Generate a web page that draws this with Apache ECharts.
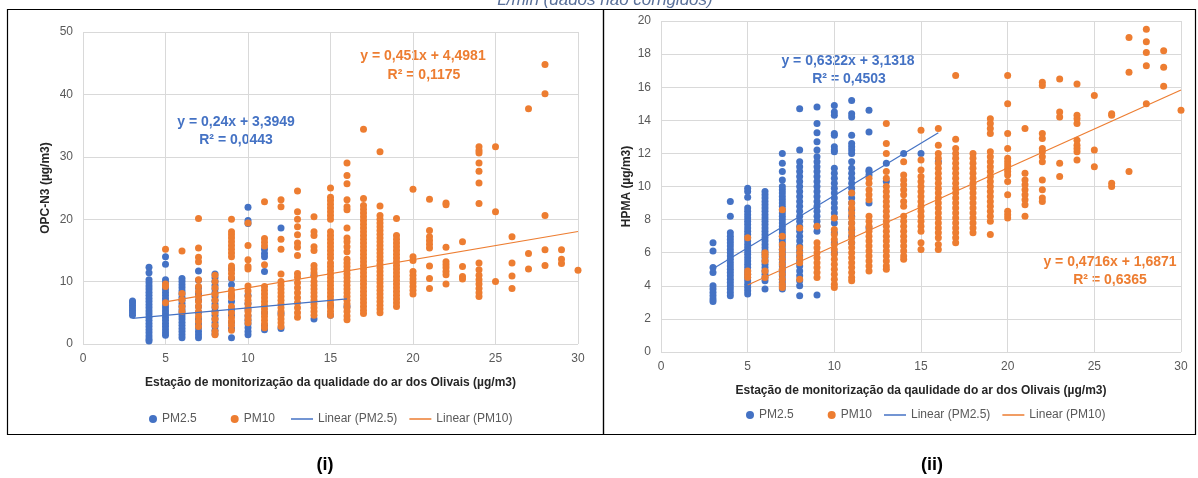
<!DOCTYPE html>
<html>
<head>
<meta charset="utf-8">
<script src="https://cdn.jsdelivr.net/npm/echarts@6/dist/echarts.min.js"></script>
<style>
  html, body { margin: 0; padding: 0; background: #ffffff; }
  #chart { width: 1198px; height: 478px; }
</style>
</head>
<body>
<div id="chart"></div>
<script>
// Each column: [station value (µg/m3), [sensor readings at that value]]

// (i) OPC-N3 vs Olivais station
const opcPm25 = [
  [3, [4.6, 5.0, 5.4, 5.8, 6.2, 6.6, 6.9]],
  [4, [12.3, 11.4, 10.3, 9.8, 9.3, 8.8, 8.3, 7.8, 7.3, 6.8, 6.3, 5.8, 5.3, 4.8, 4.3, 3.8, 3.3, 2.8, 2.3, 1.8, 1.3, 0.8, 0.5]],
  [5, [14.0, 12.8, 10.3, 9.8, 9.3, 8.8, 8.3, 7.8, 7.3, 6.8, 6.3, 5.8, 5.3, 4.8, 4.3, 3.8, 3.3, 2.8, 2.3, 1.8, 1.4]],
  [6, [10.5, 10.0, 9.5, 9.0, 8.5, 8.0, 7.5, 7.0, 6.5, 6.0, 5.5, 5.0, 4.5, 4.0, 3.5, 3.0, 2.5, 2.0, 1.5, 1.0]],
  [7, [11.7, 10.2, 9.0, 8.0, 7.0, 6.0, 5.0, 4.0, 3.2, 2.6, 2.0, 1.5, 1.0]],
  [8, [11.2, 10.6, 10.0, 9.4, 8.8, 8.2, 7.6, 7.0, 6.4, 5.8, 5.2, 4.6, 4.0, 3.4, 2.8, 2.2, 1.6]],
  [9, [12.0, 10.5, 9.5, 7.6, 6.8, 5.5, 4.6, 3.5, 2.5, 1.0]],
  [10, [21.9, 19.8, 19.3, 7.8, 6.5, 5.5, 4.5, 3.8, 3.2, 2.6, 2.0, 1.5]],
  [11, [15.2, 14.5, 14.0, 11.6, 5.0, 3.0, 2.3]],
  [12, [18.6, 4.9, 2.5]],
  [14, [11.0, 4.0]],
  [15, [6.2, 4.6]],
  [16, [6.0]]
];

const opcPm10 = [
  [5, [15.2, 9.6, 9.2, 6.6]],
  [6, [14.9, 8.1, 7.1, 6.0, 5.2]],
  [7, [20.1, 15.4, 13.9, 13.2, 10.3, 9.2, 8.4, 7.6, 6.8, 6.0, 5.2, 4.4, 3.6, 2.8]],
  [8, [11.0, 10.0, 9.0, 8.0, 7.0, 6.0, 5.0, 4.0, 3.0, 2.0, 1.5]],
  [9, [20.0, 18.0, 17.5, 17.0, 16.4, 15.8, 15.2, 14.6, 14.0, 12.5, 11.9, 11.3, 10.6, 8.6, 8.0, 7.4, 6.0, 5.0, 4.2, 3.6, 3.0, 2.2]],
  [10, [19.4, 15.8, 13.5, 12.4, 12.0, 9.3, 8.5, 7.6, 7.0, 6.4, 5.8, 5.2, 4.6, 4.0, 3.4]],
  [11, [22.8, 16.9, 16.3, 15.7, 12.7, 9.2, 8.6, 8.0, 7.4, 6.8, 6.2, 5.6, 5.0, 4.4, 3.8, 3.2, 2.6]],
  [12, [23.1, 22.0, 16.8, 15.2, 11.2, 10.0, 9.4, 8.8, 8.2, 7.6, 7.0, 6.4, 5.8, 5.2, 4.6, 4.0, 3.4, 2.8]],
  [13, [24.5, 21.2, 20.0, 18.8, 17.5, 16.2, 15.5, 14.2, 11.3, 10.7, 9.8, 9.0, 8.2, 7.4, 6.6, 5.8, 5.0, 4.3]],
  [14, [20.4, 18.0, 17.4, 15.6, 15.0, 12.6, 12.0, 11.4, 10.8, 10.0, 9.4, 8.8, 8.2, 7.6, 7.0, 6.4, 5.8, 5.2, 4.6]],
  [15, [25.0, 23.5, 23.0, 22.4, 21.8, 21.2, 20.6, 20.0, 18.0, 17.4, 16.8, 16.2, 15.6, 15.0, 14.4, 13.8, 13.0, 12.4, 11.8, 11.2, 10.6, 10.0, 9.4, 8.8, 8.2, 7.6, 7.0, 6.4, 5.8, 5.2, 4.6]],
  [16, [29.0, 27.0, 25.7, 23.1, 22.0, 21.5, 18.6, 17.0, 16.4, 15.6, 14.8, 13.6, 13.0, 12.4, 11.8, 11.2, 10.6, 10.0, 9.4, 8.8, 8.2, 7.6, 7.0, 6.4, 5.8, 5.2, 4.5, 3.9]],
  [17, [34.4, 23.3, 22.2, 21.6, 21.0, 20.4, 19.8, 19.2, 18.6, 18.0, 17.4, 16.8, 16.2, 15.6, 15.0, 14.4, 13.8, 13.2, 12.6, 12.0, 11.4, 10.8, 10.2, 9.6, 9.0, 8.4, 7.8, 7.2, 6.6, 6.0, 5.4, 4.9]],
  [18, [30.8, 22.1, 20.6, 20.0, 19.4, 18.8, 18.2, 17.6, 17.0, 16.4, 15.8, 15.2, 14.6, 14.0, 13.4, 12.8, 12.2, 11.6, 11.0, 10.4, 9.8, 9.2, 8.6, 8.0, 7.4, 6.8, 6.2, 5.6, 5.0]],
  [19, [20.1, 17.4, 16.8, 16.2, 15.6, 15.0, 14.4, 13.8, 13.2, 12.6, 12.0, 11.4, 10.8, 10.2, 9.6, 9.0, 8.4, 7.8, 7.2, 6.6, 6.0]],
  [20, [24.8, 14.0, 13.4, 11.6, 11.0, 10.4, 9.8, 9.2, 8.6, 8.0]],
  [21, [23.2, 18.2, 17.2, 16.6, 16.0, 15.4, 12.5, 10.5, 8.9]],
  [22, [22.6, 22.3, 15.5, 13.2, 12.7, 12.2, 11.6, 11.1, 9.6]],
  [23, [16.4, 12.4, 10.8, 10.4]],
  [24, [31.6, 31.0, 30.6, 29.0, 27.7, 25.8, 22.5, 13.0, 11.9, 11.0, 10.3, 9.6, 8.9, 8.2, 7.6]],
  [25, [31.6, 21.2, 10.0]],
  [26, [17.2, 13.0, 10.9, 8.9]],
  [27, [37.7, 14.5, 12.0]],
  [28, [44.8, 40.1, 20.6, 15.1, 12.6]],
  [29, [15.1, 13.6, 12.9]],
  [30, [11.8]]
];

// (ii) HPMA vs Olivais station
const hpmaPm25 = [
  [3, [6.6, 6.1, 5.1, 4.8, 4.0, 3.8, 3.6, 3.4, 3.2, 3.05]],
  [4, [9.1, 8.2, 7.2, 7.0, 6.8, 6.6, 6.4, 6.2, 6.0, 5.8, 5.6, 5.4, 5.2, 5.0, 4.8, 4.6, 4.4, 4.2, 4.0, 3.8, 3.6, 3.4]],
  [5, [9.9, 9.7, 9.35, 8.7, 8.5, 8.3, 8.1, 7.9, 7.7, 7.5, 7.3, 7.1, 6.9, 6.7, 6.5, 6.3, 6.1, 5.9, 5.7, 5.5, 5.3, 5.1, 4.9, 4.7, 4.5, 4.3, 4.1, 3.9, 3.7, 3.5]],
  [6, [9.7, 9.5, 9.3, 9.1, 8.9, 8.7, 8.5, 8.3, 8.1, 7.9, 7.7, 7.5, 7.3, 7.1, 6.9, 6.7, 6.5, 6.3, 6.1, 5.9, 5.7, 5.5, 5.3, 5.1, 4.9, 4.7, 4.5, 4.3, 3.8]],
  [7, [12.0, 11.4, 10.9, 10.4, 10.0, 9.8, 9.6, 9.4, 9.2, 9.0, 8.8, 8.6, 8.4, 8.2, 8.0, 7.8, 7.6, 7.4, 7.2, 7.0, 6.8, 6.6, 6.4, 6.2, 6.0, 5.8, 5.6, 5.4, 5.2, 5.0, 4.8, 4.6, 4.4, 4.2, 4.0, 3.8]],
  [8, [14.7, 12.2, 11.5, 11.2, 10.9, 10.6, 10.3, 10.0, 9.7, 9.4, 9.1, 8.8, 8.5, 8.2, 7.9, 7.6, 7.3, 7.0, 6.7, 6.4, 6.1, 5.8, 5.5, 5.2, 4.9, 4.6, 4.3, 4.0, 3.4]],
  [9, [14.8, 13.8, 13.25, 12.7, 12.2, 11.8, 11.5, 11.2, 10.9, 10.6, 10.3, 10.0, 9.7, 9.4, 9.1, 8.8, 8.5, 8.2, 7.9, 7.6, 7.3, 3.45]],
  [10, [14.9, 14.5, 14.3, 13.2, 13.1, 12.4, 12.2, 12.1, 11.1, 10.8, 10.5, 10.2, 9.9, 9.6, 9.3, 9.0, 8.7, 8.4, 8.1, 7.8, 7.2, 6.6, 6.0]],
  [11, [15.2, 14.4, 14.2, 13.1, 12.6, 12.4, 12.2, 12.0, 11.5, 11.1, 10.8, 10.5, 10.2, 9.9, 9.6, 9.3, 9.0, 8.6, 8.2, 7.8, 7.4, 7.0, 6.6]],
  [12, [14.6, 13.3, 11.0, 10.9, 10.7, 9.0, 7.5]],
  [13, [11.4, 10.3]],
  [14, [12.0]],
  [15, [12.0]],
  [16, [11.5]]
];

const hpmaPm10 = [
  [5, [6.9, 4.9, 4.7, 4.5]],
  [6, [6.0, 5.8, 5.5, 4.9, 4.5]],
  [7, [8.6, 7.0, 6.5, 6.2, 5.9, 5.6, 5.3, 5.0, 4.7, 4.4, 4.1, 3.9]],
  [8, [7.5, 6.3, 6.0, 5.7, 5.4, 4.4]],
  [9, [7.6, 6.6, 6.3, 6.0, 5.7, 5.4, 5.1, 4.8, 4.5]],
  [10, [8.1, 7.4, 7.1, 6.8, 6.5, 6.2, 5.9, 5.6, 5.3, 5.0, 4.7, 4.4, 4.1, 3.9]],
  [11, [9.6, 9.0, 8.7, 8.4, 8.1, 7.8, 7.5, 7.2, 6.9, 6.6, 6.3, 6.0, 5.7, 5.4, 5.1, 4.8, 4.5, 4.3]],
  [12, [10.5, 10.2, 9.8, 9.5, 9.2, 8.2, 7.9, 7.6, 7.3, 7.0, 6.7, 6.4, 6.1, 5.8, 5.5, 5.2, 4.9]],
  [13, [13.8, 12.6, 12.0, 10.9, 10.5, 10.0, 9.7, 9.4, 9.1, 8.8, 8.5, 8.2, 7.9, 7.6, 7.3, 7.0, 6.7, 6.4, 6.1, 5.8, 5.5, 5.2, 5.0]],
  [14, [11.5, 10.7, 10.4, 10.1, 9.8, 9.5, 9.1, 8.8, 8.2, 7.9, 7.6, 7.3, 7.0, 6.7, 6.4, 6.1, 5.8, 5.6]],
  [15, [13.4, 11.6, 11.0, 10.6, 10.3, 10.0, 9.7, 9.4, 9.1, 8.8, 8.5, 8.2, 7.9, 7.6, 7.3, 6.6, 6.2]],
  [16, [13.5, 12.5, 12.0, 11.7, 11.4, 11.1, 10.8, 10.5, 10.2, 9.9, 9.6, 9.3, 9.0, 8.7, 8.4, 8.1, 7.8, 7.5, 7.2, 6.9, 6.5, 6.2]],
  [17, [16.7, 12.85, 12.3, 12.0, 11.7, 11.4, 11.1, 10.8, 10.5, 10.2, 9.9, 9.6, 9.3, 9.0, 8.7, 8.4, 8.1, 7.8, 7.5, 7.2, 6.9, 6.6]],
  [18, [12.0, 11.7, 11.4, 11.1, 10.8, 10.5, 10.2, 9.9, 9.6, 9.3, 9.0, 8.7, 8.4, 8.1, 7.8, 7.5, 7.2]],
  [19, [14.1, 13.8, 13.5, 13.2, 12.1, 11.8, 11.5, 11.2, 10.9, 10.6, 10.3, 10.0, 9.7, 9.4, 9.1, 8.8, 8.5, 8.2, 7.9, 7.1]],
  [20, [16.7, 15.0, 13.2, 12.3, 11.7, 11.5, 11.3, 11.1, 10.9, 10.7, 10.3, 9.5, 8.5, 8.3, 8.1]],
  [21, [13.5, 10.8, 10.4, 10.1, 9.8, 9.5, 9.2, 8.9, 8.2]],
  [22, [16.3, 16.1, 13.2, 12.9, 12.3, 12.1, 11.8, 11.5, 10.4, 9.8, 9.3, 9.1]],
  [23, [16.5, 14.5, 14.2, 11.4, 10.6]],
  [24, [16.2, 14.3, 14.1, 13.8, 12.8, 12.5, 12.3, 12.1, 11.6]],
  [25, [15.5, 12.2, 11.2]],
  [26, [14.4, 14.3, 10.2, 10.0]],
  [27, [19.0, 16.9, 10.9]],
  [28, [19.5, 18.75, 18.1, 17.3, 15.0]],
  [29, [18.2, 17.2, 16.05]],
  [30, [14.6]]
];

// Least-squares fits reported on the plots
const opcFitPm25 = { slope: 0.24, intercept: 3.3949, r2: 0.0443 };
const opcFitPm10 = { slope: 0.451, intercept: 4.4981, r2: 0.1175 };
const hpmaFitPm25 = { slope: 0.6322, intercept: 3.1318, r2: 0.4503 };
const hpmaFitPm10 = { slope: 0.4716, intercept: 1.6871, r2: 0.6365 };

const seriesNames = ['PM2.5', 'PM10', 'Linear (PM2.5)', 'Linear (PM10)'];
const xTitleOpc = 'Estação de monitorização da qualidade do ar dos Olivais (µg/m3)';
const xTitleHpma = 'Estação de monitorização da qaulidade do ar dos Olivais (µg/m3)';
const yTitleOpc = 'OPC-N3 (µg/m3)';
const yTitleHpma = 'HPMA (µg/m3)';
const headerText = 'L/min (dados não corrigidos)';
const captions = ['(i)', '(ii)'];

const FONT = "'Liberation Sans', Arial, sans-serif";
const BLUE = '#4472C4';
const ORANGE = '#ED7D31';
const GRID_LINE = '#d9d9d9';
const LABEL = '#595959';

function toPoints(cols) {
  const out = [];
  cols.forEach(([x, ys]) => ys.forEach(y => out.push([x, y])));
  return out;
}

function fitSegment(cols, fit) {
  const xs = cols.map(c => c[0]);
  const x0 = Math.min(...xs), x1 = Math.max(...xs);
  return [[x0, fit.slope * x0 + fit.intercept], [x1, fit.slope * x1 + fit.intercept]];
}

const dec = v => String(v).replace('.', ',');
const eqText = f => 'y = ' + dec(f.slope) + 'x + ' + dec(f.intercept);
const r2Text = f => 'R² = ' + dec(f.r2);

function xAxisFor(gridIndex, title) {
  return {
    gridIndex, type: 'value', min: 0, max: 30, interval: 5,
    axisLine: { show: false }, axisTick: { show: false },
    splitLine: { show: true, lineStyle: { color: GRID_LINE, width: 1 } },
    axisLabel: { color: LABEL, fontSize: 12, fontFamily: FONT, margin: 9 },
    name: title, nameLocation: 'middle', nameGap: 33,
    nameTextStyle: { fontFamily: FONT, fontSize: 12, fontWeight: 'bold', color: '#262626' }
  };
}

function yAxisFor(gridIndex, max, interval, title, gap) {
  return {
    gridIndex, type: 'value', min: 0, max, interval,
    axisLine: { show: false }, axisTick: { show: false },
    splitLine: { show: true, lineStyle: { color: GRID_LINE, width: 1 } },
    axisLabel: { color: LABEL, fontSize: 12, fontFamily: FONT, margin: 10 },
    name: title, nameLocation: 'middle', nameGap: gap,
    nameTextStyle: { fontFamily: FONT, fontSize: 12, fontWeight: 'bold', color: '#262626' }
  };
}

function scatter(name, idx, cols, color) {
  return {
    name, type: 'scatter', xAxisIndex: idx, yAxisIndex: idx,
    data: toPoints(cols), symbol: 'circle', symbolSize: 7,
    itemStyle: { color, opacity: 1 }, z: 2, silent: true
  };
}

function trend(name, idx, cols, fit, color) {
  return {
    name, type: 'line', xAxisIndex: idx, yAxisIndex: idx,
    data: fitSegment(cols, fit), showSymbol: false, symbol: 'none',
    lineStyle: { color, width: 1.2 }, itemStyle: { color }, z: 3, silent: true
  };
}

function textEl(x, y, text, fill, font) {
  return {
    type: 'text', x, y, silent: true,
    style: { text, fill, font, textAlign: 'center', textVerticalAlign: 'middle', align: 'center', verticalAlign: 'middle' }
  };
}

const legendText = { fontFamily: FONT, fontSize: 12, color: LABEL };
function dotLegend(left, top) {
  return { left, top, data: seriesNames.slice(0, 2), icon: 'circle', itemWidth: 8, itemHeight: 8,
           itemGap: 34, textStyle: legendText, selectedMode: false, padding: 0 };
}
function lineLegend(left, top) {
  return { left, top, data: seriesNames.slice(2), icon: 'rect', itemWidth: 22, itemHeight: 1.5,
           itemGap: 12, textStyle: legendText, selectedMode: false, padding: 0 };
}

const EQ_FONT = 'bold 14px ' + FONT;

const option = {
  backgroundColor: '#ffffff',
  animation: false,
  grid: [
    { left: 83, top: 32, width: 495, height: 312, outerBoundsMode: 'none' },
    { left: 661, top: 21, width: 520, height: 331, outerBoundsMode: 'none' }
  ],
  xAxis: [xAxisFor(0, xTitleOpc), xAxisFor(1, xTitleHpma)],
  yAxis: [yAxisFor(0, 50, 10, yTitleOpc, 31), yAxisFor(1, 20, 2, yTitleHpma, 28)],
  legend: [dotLegend(149, 413), lineLegend(291, 413), dotLegend(746, 409), lineLegend(884, 409)],
  series: [
    scatter(seriesNames[0], 0, opcPm25, BLUE),
    scatter(seriesNames[1], 0, opcPm10, ORANGE),
    trend(seriesNames[2], 0, opcPm25, opcFitPm25, BLUE),
    trend(seriesNames[3], 0, opcPm10, opcFitPm10, ORANGE),
    scatter(seriesNames[0], 1, hpmaPm25, BLUE),
    scatter(seriesNames[1], 1, hpmaPm10, ORANGE),
    trend(seriesNames[2], 1, hpmaPm25, hpmaFitPm25, BLUE),
    trend(seriesNames[3], 1, hpmaPm10, hpmaFitPm10, ORANGE)
  ],
  graphic: [
    { type: 'rect', silent: true, shape: { x: 7.5, y: 9.5, width: 596, height: 425 },
      style: { fill: 'none', stroke: '#000', lineWidth: 1.2 } },
    { type: 'rect', silent: true, shape: { x: 603.5, y: 9.5, width: 592, height: 425 },
      style: { fill: 'none', stroke: '#000', lineWidth: 1.2 } },
    textEl(605, 0, headerText, '#5a7099', 'italic 17px ' + FONT),
    textEl(325, 465, captions[0], '#000', 'bold 18px ' + FONT),
    textEl(932, 465, captions[1], '#000', 'bold 18px ' + FONT),
    textEl(423, 56, eqText(opcFitPm10), ORANGE, EQ_FONT),
    textEl(424, 75, r2Text(opcFitPm10), ORANGE, EQ_FONT),
    textEl(236, 122, eqText(opcFitPm25), BLUE, EQ_FONT),
    textEl(236, 140, r2Text(opcFitPm25), BLUE, EQ_FONT),
    textEl(848, 61, eqText(hpmaFitPm25), BLUE, EQ_FONT),
    textEl(849, 79, r2Text(hpmaFitPm25), BLUE, EQ_FONT),
    textEl(1110, 262, eqText(hpmaFitPm10), ORANGE, EQ_FONT),
    textEl(1110, 280, r2Text(hpmaFitPm10), ORANGE, EQ_FONT)
  ]
};

const chart = echarts.init(document.getElementById('chart'), null, { renderer: 'canvas' });
chart.setOption(option);
</script>
</body>
</html>
